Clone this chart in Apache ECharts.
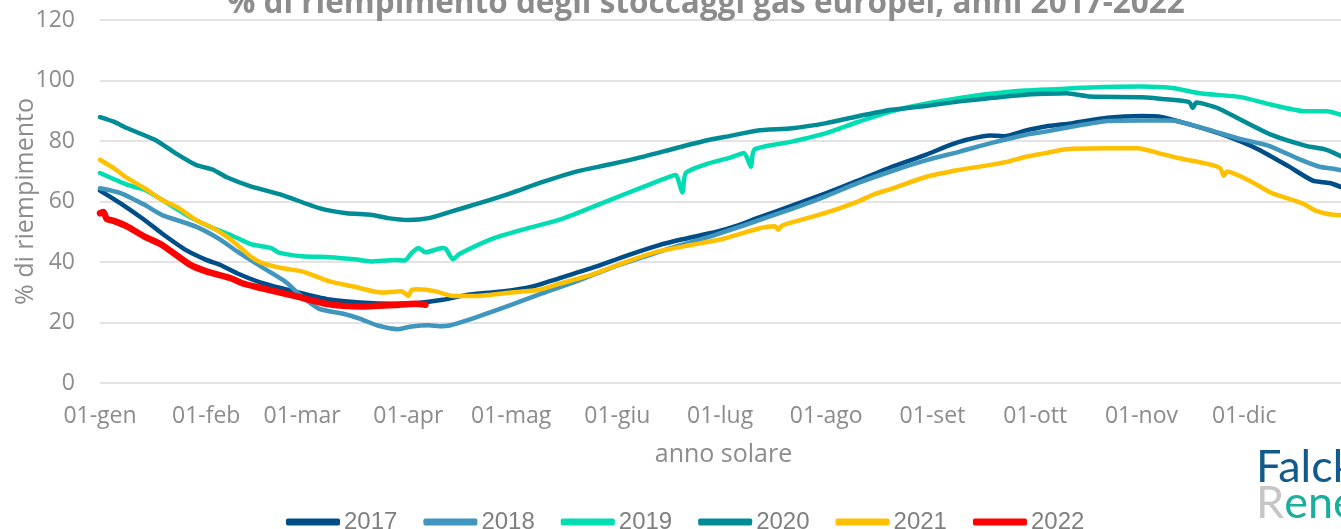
<!DOCTYPE html>
<html>
<head>
<meta charset="utf-8">
<script src="https://cdn.jsdelivr.net/npm/echarts@6/dist/echarts.min.js"></script>
<style>
html,body{margin:0;padding:0;background:#fff;}
#chart{width:1341px;height:529px;}
</style>
</head>
<body>
<div id="chart"></div>
<script>
// Month names and lengths (used to build the daily category axis)
const monthNames = ['gen','feb','mar','apr','mag','giu','lug','ago','set','ott','nov','dic'];
const monthDays = [31,28,31,30,31,30,31,31,30,31,30,31];
const seriesNames = ['2017','2018','2019','2020','2021','2022'];
const yTicks = [0,20,40,60,80,100,120];

// Readings: [day index from 01-gen, % filled]
const s2017 = [[0,63.6],[6,59.4],[13,53.9],[18,49.5],[25,44],[31,40.7],[35,39.1],[40,36.3],[47,33.2],[57,30.2],[67,27.6],[76,26.6],[86,26.2],[92,26.4],[100,27.5],[108,29.3],[118,30.3],[126,31.8],[134,34.6],[144,38.2],[154,42.2],[163,45.5],[170,47.5],[180,50],[186,52],[192,54.6],[202,58.6],[212,62.8],[221,66.8],[231,71.4],[241,75.4],[248,78.6],[253,80.4],[260,81.8],[264,81.6],[270,83.4],[276,84.8],[284,85.9],[294,87.7],[304,88.3],[309,88.1],[318,85.5],[328,82],[338,77.3],[347,71.6],[354,66.9],[359,66.1],[364,64]];
const s2018 = [[0,64.4],[6,62.8],[13,58.9],[18,55.6],[28,51.7],[35,47.5],[40,43.5],[47,38.5],[54,33.6],[59,28.5],[64,24.5],[71,22.9],[76,21.2],[81,19],[87,17.8],[91,18.7],[96,19.1],[99,18.8],[102,19],[110,21.8],[120,25.8],[129,29.6],[139,33.6],[149,38],[159,41.8],[168,45.1],[178,48.4],[184,50.6],[192,53.7],[202,57.6],[212,61.8],[221,66],[231,70],[241,73.6],[251,76.5],[260,79.3],[270,82],[276,83.1],[284,84.8],[294,86.6],[304,86.8],[313,86.8],[323,83.9],[333,80.6],[341,78.5],[350,74],[356,71.5],[360,70.8],[364,70]];
const s2019 = [[0,69.4],[8,65.5],[13,63.9],[18,60.6],[26,55],[33,51.2],[38,49],[44,45.9],[50,44.6],[52,43.2],[59,41.9],[67,41.6],[75,40.8],[79,40.2],[86,40.7],[89,40.5],[91,43],[93,44.6],[95,43.2],[100,44.6],[101,44.3],[103,40.9],[105,42.7],[115,47.9],[125,51.2],[134,53.9],[144,58.3],[154,62.8],[164,67.2],[168,68.8],[170,63],[171,69.4],[178,72.7],[184,74.5],[188,76],[190,71.5],[191,77.2],[202,79.8],[212,82.6],[221,86.2],[231,89.8],[241,92.3],[251,94.2],[260,95.6],[270,96.7],[280,97.2],[289,97.7],[304,98],[313,97.5],[321,95.8],[333,94.5],[342,92],[352,89.8],[358,89.8],[364,88]];
const s2020 = [[0,87.9],[4,86.4],[8,84.2],[16,80.4],[22,76],[28,72.1],[33,70.5],[37,68],[44,65],[53,62.2],[64,57.8],[72,56.1],[79,55.6],[84,54.5],[90,53.9],[96,54.5],[102,56.5],[110,59.2],[120,62.8],[129,66.4],[139,69.9],[149,72.3],[159,74.9],[168,77.6],[178,80.4],[184,81.7],[192,83.5],[202,84.2],[212,85.9],[221,88.1],[231,90.3],[241,91.6],[251,93.1],[260,94.2],[270,95.3],[276,95.6],[282,95.8],[289,94.7],[304,94.5],[313,93.6],[318,92.8],[319,90.9],[320,92.7],[326,91],[333,87],[342,82],[352,78.4],[358,77.1],[364,74]];
const s2021 = [[0,73.8],[4,71],[8,67.7],[13,64.4],[18,60.6],[23,57.8],[28,53.9],[33,51.2],[37,48.4],[40,45.7],[44,41.8],[47,39.8],[53,38],[59,36.9],[67,33.6],[74,31.9],[82,29.9],[88,30.3],[90,28.8],[91,30.8],[93,31],[98,30.3],[103,28.8],[110,28.8],[120,29.9],[128,30.8],[134,32.8],[144,36],[154,40.2],[163,43.5],[173,45.7],[182,47.7],[192,51],[197,51.8],[198,50.7],[199,52],[202,53.1],[212,56.3],[221,59.9],[226,62.4],[231,64.2],[241,68.1],[251,70.5],[260,72.1],[265,73.2],[270,74.7],[276,76],[282,77.3],[294,77.6],[303,77.6],[309,76],[315,74.3],[323,72.5],[327,71],[328,68.5],[329,69.9],[335,67.2],[342,62.8],[351,59.4],[355,56.9],[360,55.6],[364,55.5]];
const s2022 = [[0,56.1],[1,56.5],[2,54.2],[4,53.6],[8,51.7],[13,48.4],[18,45.7],[26,39.3],[31,36.9],[38,34.7],[42,32.8],[47,31.4],[57,28.7],[67,26],[76,25.3],[86,25.8],[92,26.2],[95,25.9]];

const colors = ['#004E87','#4196BE','#00DDB3','#008C95','#FFC000','#FF0000'];
const allData = [s2017,s2018,s2019,s2020,s2021,s2022];

// daily categories "01-gen" ... "31-dic"
const days = [];
monthNames.forEach((m, i) => {
  for (let d = 1; d <= monthDays[i]; d++) days.push((d < 10 ? '0' + d : '' + d) + '-' + m);
});

const FONT = 'Open Sans';
const GREY = '#8c8c8c';

const chart = echarts.init(document.getElementById('chart'), null, {renderer: 'canvas'});
chart.setOption({
  animation: false,
  backgroundColor: '#fff',
  title: {
    text: '% di riempimento degli stoccaggi gas europei, anni 2017-2022',
    left: 222, top: -17,
    textStyle: {fontFamily: FONT, fontSize: 31.5, fontWeight: 'bold', color: GREY}
  },
  legend: {
    data: seriesNames,
    left: 281, top: 505,
    itemWidth: 54, itemHeight: 7, itemGap: 26,
    icon: 'roundRect',
    textStyle: {fontFamily: 'Liberation Sans', fontSize: 24, color: '#7f7f7f', padding: [0, 0, 0, -1]}
  },
  grid: {left: 100, right: -6, top: 20, bottom: 146, containLabel: false, outerBoundsMode: 'none'},
  xAxis: {
    type: 'category',
    data: days,
    boundaryGap: false,
    name: 'anno solare',
    nameLocation: 'middle',
    nameGap: 59,
    nameMoveOverlap: false,
    nameTextStyle: {fontFamily: FONT, fontSize: 25, color: GREY},
    axisLine: {show: false},
    axisTick: {show: false},
    splitLine: {show: false},
    axisLabel: {
      interval: (i, v) => v.startsWith('01-'),
      margin: 22,
      fontFamily: FONT, fontSize: 23, color: GREY
    }
  },
  yAxis: {
    type: 'value',
    min: yTicks[0], max: yTicks[yTicks.length - 1], interval: 20,
    name: '% di riempimento',
    nameLocation: 'middle',
    nameGap: 62,
    nameMoveOverlap: false,
    nameTextStyle: {fontFamily: FONT, fontSize: 25, color: GREY},
    axisLine: {show: false},
    axisTick: {show: false},
    axisLabel: {margin: 25, fontFamily: FONT, fontSize: 23, color: GREY},
    splitLine: {lineStyle: {color: '#e3e3e3', width: 2}}
  },
  series: seriesNames.map((n, i) => ({
    name: n,
    type: 'line',
    data: allData[i],
    showSymbol: false,
    symbol: 'none',
    smooth: 0.2,
    color: colors[i],
    lineStyle: {width: i === 5 ? 6.5 : 4.5, color: colors[i], cap: 'round', join: 'round'},
    z: 2 + i
  })),
  graphic: [
    {type: 'text', left: 1256, top: 445, style: {text: 'Falck', fontFamily: 'Lato', fontSize: 45, fill: '#125A8C'}},
    {type: 'text', left: 1256, top: 481, style: {
      text: '{r|R}{e|enewables}',
      rich: {
        r: {fontFamily: 'Lato', fontSize: 45, fill: '#c6c6c6', color: '#c6c6c6'},
        e: {fontFamily: 'Lato', fontSize: 45, fill: '#1AAE9F', color: '#1AAE9F'}
      }
    }}
  ]
});
</script>
</body>
</html>
